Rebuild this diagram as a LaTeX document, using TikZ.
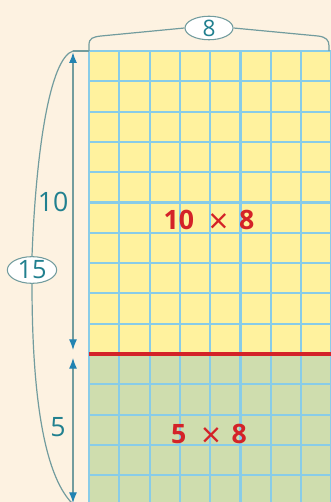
\documentclass[tikz,border=0pt]{standalone}
\usepackage{fontspec}
\setsansfont{Open Sans}
\usepackage{xcolor}
\usetikzlibrary{arrows.meta, shapes.geometric}
\definecolor{fondo}{HTML}{FDF2E1}
\definecolor{amarillo}{HTML}{FFF29E}
\definecolor{verde}{HTML}{CFDDAE}
\definecolor{rejilla}{HTML}{88CCE8}
\definecolor{rojo}{HTML}{D42228}
\definecolor{azul}{HTML}{2283B2}
\definecolor{gris}{HTML}{729C9E}
\definecolor{texto}{HTML}{21808F}
\newcommand{\porx}{\hspace{.55em}\raisebox{-3pt}{\mdseries\fontsize{26}{20}\selectfont ×}\hspace{.4em}}

\begin{document}
\begin{tikzpicture}[
  x=0.75pt, y=-0.75pt,
  font=\sffamily,
  etiq/.style={ellipse, draw=gris, thick, fill=white, inner sep=0pt, text=texto},
  medida/.style={text=texto, font=\sffamily\fontsize{20}{20}\selectfont},
  producto/.style={text=rojo, font=\sffamily\bfseries\fontsize{20}{20}\selectfont},
  cota/.style={{Latex[length=8pt, width=6pt, color=azul]}-{Latex[length=8pt, width=6pt, color=azul]}, gris, line width=0.9pt},
  llave/.style={gris, line width=0.9pt},
]
\useasboundingbox (0,0) rectangle (331,502);
\clip (0,0) rectangle (331,502);
\fill[fondo] (0,0) rectangle (331,502);

% --- Rejilla: 10 filas amarillas y 5 verdes ---
\coordinate (esqA) at (89,51);
\coordinate (esqB) at (331.4,354);
\coordinate (esqC) at (89,354);
\coordinate (esqD) at (331.4,505.5);
\fill[amarillo] (esqA) rectangle (esqB);
\fill[verde] (esqC) rectangle (esqD);
\foreach \i in {0,...,8}
  \draw[rejilla, line width=1.6pt] (89+30.3*\i,51) -- (89+30.3*\i,505.5);
\foreach \j in {0,...,15}
  \draw[rejilla, line width=1.6pt] (89,51+30.3*\j) -- (331.4,51+30.3*\j);
\draw[rojo, line width=3.4pt] (esqC) -- (esqB |- esqC);

% --- Productos ---
\node[producto] (arriba) at (209,222) {10\porx 8};
\node[producto] (abajo) at (209,436) {5\porx 8};

% --- Cota superior (8) ---
\node[etiq, minimum width=36pt, minimum height=16pt, font=\sffamily\fontsize{17}{17}\selectfont] (ocho) at (209,28) {8};
\draw[llave] (esqA) -- (89,45) .. controls (89,38) and (93,37) .. (101,36) -- (ocho.west);
\draw[llave] (ocho.east) -- (318,36) .. controls (326,37) and (329,40) .. (329,46) -- (329,51);

% --- Cotas laterales (10 y 5) ---
\coordinate (ca) at (73,51);
\coordinate (cb) at (73,354);
\coordinate (cc) at (73,503);
\draw[llave] (ca) -- (esqA);
\draw[cota, shorten <=1pt, shorten >=3pt] (ca) -- (cb);
\draw[cota, shorten <=3pt] (cb) -- (cc);
\node[medida] (diez) at (53,202) {10};
\node[medida] (cinco) at (58,427) {5};

% --- Cota total (15) ---
\node[etiq, minimum width=37pt, minimum height=20pt, font=\sffamily\fontsize{19}{19}\selectfont] (quince) at (32,270) {15};
\draw[llave] (ca) .. controls (50,58) and (36,150) .. (quince.north);
\draw[llave] (quince.south) .. controls (32,400) and (45,480) .. (75,506);

\end{tikzpicture}
\end{document}
